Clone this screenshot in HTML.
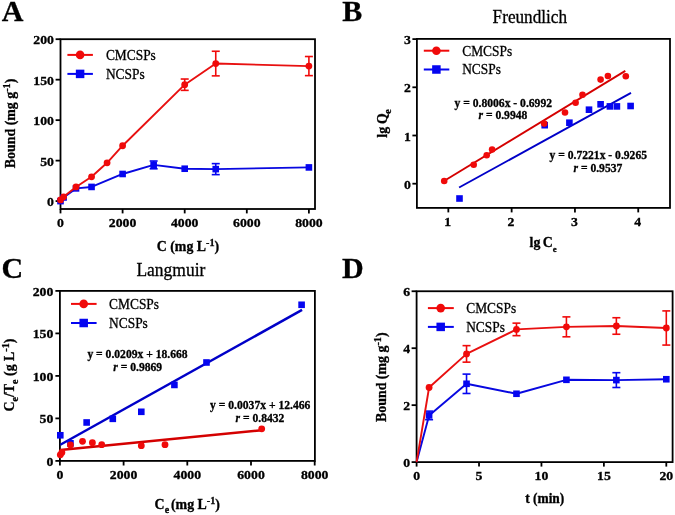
<!DOCTYPE html>
<html><head><meta charset="utf-8"><style>
html,body{margin:0;padding:0;background:#fff;width:675px;height:515px;overflow:hidden}
svg{display:block;will-change:transform;font-family:"Liberation Serif",serif}
text{stroke:#000;stroke-width:0.3px;paint-order:stroke}
</style></head><body>
<svg width="675" height="515" viewBox="0 0 675 515">
<rect width="675" height="515" fill="#fff"/>
<rect x="60.50" y="39.20" width="254.50" height="169.80" fill="none" stroke="#000" stroke-width="1.8"/>
<line x1="60.50" y1="209.00" x2="60.50" y2="213.40" stroke="#000" stroke-width="1.8" stroke-linecap="butt"/>
<text transform="translate(60.50,227.10) scale(1.0600,1)" font-size="13.0" text-anchor="middle" font-weight="bold" font-style="normal" >0</text>
<line x1="122.60" y1="209.00" x2="122.60" y2="213.40" stroke="#000" stroke-width="1.8" stroke-linecap="butt"/>
<text transform="translate(122.60,227.10) scale(1.0600,1)" font-size="13.0" text-anchor="middle" font-weight="bold" font-style="normal" >2000</text>
<line x1="184.70" y1="209.00" x2="184.70" y2="213.40" stroke="#000" stroke-width="1.8" stroke-linecap="butt"/>
<text transform="translate(184.70,227.10) scale(1.0600,1)" font-size="13.0" text-anchor="middle" font-weight="bold" font-style="normal" >4000</text>
<line x1="246.80" y1="209.00" x2="246.80" y2="213.40" stroke="#000" stroke-width="1.8" stroke-linecap="butt"/>
<text transform="translate(246.80,227.10) scale(1.0600,1)" font-size="13.0" text-anchor="middle" font-weight="bold" font-style="normal" >6000</text>
<line x1="308.90" y1="209.00" x2="308.90" y2="213.40" stroke="#000" stroke-width="1.8" stroke-linecap="butt"/>
<text transform="translate(308.90,227.10) scale(1.0600,1)" font-size="13.0" text-anchor="middle" font-weight="bold" font-style="normal" >8000</text>
<line x1="55.60" y1="201.10" x2="60.50" y2="201.10" stroke="#000" stroke-width="1.8" stroke-linecap="butt"/>
<text transform="translate(53.90,206.10) scale(1.0600,1)" font-size="13.0" text-anchor="end" font-weight="bold" font-style="normal" >0</text>
<line x1="55.60" y1="160.62" x2="60.50" y2="160.62" stroke="#000" stroke-width="1.8" stroke-linecap="butt"/>
<text transform="translate(53.90,165.62) scale(1.0600,1)" font-size="13.0" text-anchor="end" font-weight="bold" font-style="normal" >50</text>
<line x1="55.60" y1="120.15" x2="60.50" y2="120.15" stroke="#000" stroke-width="1.8" stroke-linecap="butt"/>
<text transform="translate(53.90,125.15) scale(1.0600,1)" font-size="13.0" text-anchor="end" font-weight="bold" font-style="normal" >100</text>
<line x1="55.60" y1="79.67" x2="60.50" y2="79.67" stroke="#000" stroke-width="1.8" stroke-linecap="butt"/>
<text transform="translate(53.90,84.67) scale(1.0600,1)" font-size="13.0" text-anchor="end" font-weight="bold" font-style="normal" >150</text>
<line x1="55.60" y1="39.20" x2="60.50" y2="39.20" stroke="#000" stroke-width="1.8" stroke-linecap="butt"/>
<text transform="translate(53.90,44.20) scale(1.0600,1)" font-size="13.0" text-anchor="end" font-weight="bold" font-style="normal" >200</text>
<line x1="67.40" y1="54.90" x2="92.90" y2="54.90" stroke="#f00a0a" stroke-width="2" stroke-linecap="butt"/>
<circle cx="80.10" cy="54.90" r="4.3" fill="#f00a0a"/>
<line x1="67.40" y1="73.90" x2="92.90" y2="73.90" stroke="#0505f0" stroke-width="2" stroke-linecap="butt"/>
<rect x="75.85" y="69.65" width="8.5" height="8.5" fill="#0505f0"/>
<text transform="translate(105.90,59.70) scale(0.8933,1)" font-size="15.0" text-anchor="start" font-weight="normal" font-style="normal" >CMCSPs</text>
<text transform="translate(105.90,78.50) scale(0.8933,1)" font-size="15.0" text-anchor="start" font-weight="normal" font-style="normal" >NCSPs</text>
<polyline points="60.50,201.10 63.60,197.46 76.03,188.39 91.55,186.93 122.60,173.98 153.65,164.92 184.70,168.72 215.75,169.12 308.90,167.42" fill="none" stroke="#0808e0" stroke-width="1.9" stroke-linejoin="round"/>
<rect x="57.20" y="197.80" width="6.6" height="6.6" fill="#0505f0"/>
<rect x="60.30" y="194.16" width="6.6" height="6.6" fill="#0505f0"/>
<rect x="72.73" y="185.09" width="6.6" height="6.6" fill="#0505f0"/>
<rect x="88.25" y="183.63" width="6.6" height="6.6" fill="#0505f0"/>
<rect x="119.30" y="170.68" width="6.6" height="6.6" fill="#0505f0"/>
<line x1="153.65" y1="161.03" x2="153.65" y2="168.80" stroke="#0505f0" stroke-width="1.6" stroke-linecap="butt"/>
<line x1="149.65" y1="161.03" x2="157.65" y2="161.03" stroke="#0505f0" stroke-width="1.6" stroke-linecap="butt"/>
<line x1="149.65" y1="168.80" x2="157.65" y2="168.80" stroke="#0505f0" stroke-width="1.6" stroke-linecap="butt"/>
<rect x="150.35" y="161.62" width="6.6" height="6.6" fill="#0505f0"/>
<rect x="181.40" y="165.42" width="6.6" height="6.6" fill="#0505f0"/>
<line x1="215.75" y1="163.62" x2="215.75" y2="174.63" stroke="#0505f0" stroke-width="1.6" stroke-linecap="butt"/>
<line x1="211.75" y1="163.62" x2="219.75" y2="163.62" stroke="#0505f0" stroke-width="1.6" stroke-linecap="butt"/>
<line x1="211.75" y1="174.63" x2="219.75" y2="174.63" stroke="#0505f0" stroke-width="1.6" stroke-linecap="butt"/>
<rect x="212.45" y="165.82" width="6.6" height="6.6" fill="#0505f0"/>
<rect x="305.60" y="164.12" width="6.6" height="6.6" fill="#0505f0"/>
<polyline points="60.50,199.89 63.60,196.81 76.03,186.93 91.55,176.81 107.08,162.81 122.60,145.73 184.70,84.69 215.75,63.57 308.90,66.08" fill="none" stroke="#e81010" stroke-width="1.9" stroke-linejoin="round"/>
<circle cx="60.50" cy="199.89" r="3.4" fill="#f00a0a"/>
<circle cx="63.60" cy="196.81" r="3.4" fill="#f00a0a"/>
<circle cx="76.03" cy="186.93" r="3.4" fill="#f00a0a"/>
<circle cx="91.55" cy="176.81" r="3.4" fill="#f00a0a"/>
<circle cx="107.08" cy="162.81" r="3.4" fill="#f00a0a"/>
<circle cx="122.60" cy="145.73" r="3.4" fill="#f00a0a"/>
<line x1="184.70" y1="79.03" x2="184.70" y2="90.36" stroke="#f00a0a" stroke-width="1.6" stroke-linecap="butt"/>
<line x1="180.70" y1="79.03" x2="188.70" y2="79.03" stroke="#f00a0a" stroke-width="1.6" stroke-linecap="butt"/>
<line x1="180.70" y1="90.36" x2="188.70" y2="90.36" stroke="#f00a0a" stroke-width="1.6" stroke-linecap="butt"/>
<circle cx="184.70" cy="84.69" r="3.4" fill="#f00a0a"/>
<line x1="215.75" y1="51.26" x2="215.75" y2="75.87" stroke="#f00a0a" stroke-width="1.6" stroke-linecap="butt"/>
<line x1="211.75" y1="51.26" x2="219.75" y2="51.26" stroke="#f00a0a" stroke-width="1.6" stroke-linecap="butt"/>
<line x1="211.75" y1="75.87" x2="219.75" y2="75.87" stroke="#f00a0a" stroke-width="1.6" stroke-linecap="butt"/>
<circle cx="215.75" cy="63.57" r="3.4" fill="#f00a0a"/>
<line x1="308.90" y1="56.52" x2="308.90" y2="75.63" stroke="#f00a0a" stroke-width="1.6" stroke-linecap="butt"/>
<line x1="304.90" y1="56.52" x2="312.90" y2="56.52" stroke="#f00a0a" stroke-width="1.6" stroke-linecap="butt"/>
<line x1="304.90" y1="75.63" x2="312.90" y2="75.63" stroke="#f00a0a" stroke-width="1.6" stroke-linecap="butt"/>
<circle cx="308.90" cy="66.08" r="3.4" fill="#f00a0a"/>
<text x="156.70" y="251.00" font-size="13.9" text-anchor="start" font-weight="bold" font-style="normal" >C (mg L<tspan font-size="10.2" dy="-5.2">-1</tspan><tspan dy="5.2">)</tspan></text>
<text transform="translate(15.3,168.2) rotate(-90)" font-size="13.9" font-weight="bold">Bound (mg g<tspan font-size="10.2" dy="-5.2">-1</tspan><tspan dy="5.2">)</tspan></text>
<text x="1.80" y="21.40" font-size="30" text-anchor="start" font-weight="bold" font-style="normal" >A</text>
<rect x="416.90" y="38.90" width="253.10" height="169.00" fill="none" stroke="#000" stroke-width="1.8"/>
<line x1="448.34" y1="207.90" x2="448.34" y2="212.40" stroke="#000" stroke-width="1.8" stroke-linecap="butt"/>
<text transform="translate(447.74,226.00) scale(1.0600,1)" font-size="13.0" text-anchor="middle" font-weight="bold" font-style="normal" >1</text>
<line x1="511.64" y1="207.90" x2="511.64" y2="212.40" stroke="#000" stroke-width="1.8" stroke-linecap="butt"/>
<text transform="translate(511.04,226.00) scale(1.0600,1)" font-size="13.0" text-anchor="middle" font-weight="bold" font-style="normal" >2</text>
<line x1="574.94" y1="207.90" x2="574.94" y2="212.40" stroke="#000" stroke-width="1.8" stroke-linecap="butt"/>
<text transform="translate(574.34,226.00) scale(1.0600,1)" font-size="13.0" text-anchor="middle" font-weight="bold" font-style="normal" >3</text>
<line x1="638.24" y1="207.90" x2="638.24" y2="212.40" stroke="#000" stroke-width="1.8" stroke-linecap="butt"/>
<text transform="translate(637.64,226.00) scale(1.0600,1)" font-size="13.0" text-anchor="middle" font-weight="bold" font-style="normal" >4</text>
<line x1="412.40" y1="183.70" x2="416.90" y2="183.70" stroke="#000" stroke-width="1.8" stroke-linecap="butt"/>
<text transform="translate(410.80,188.70) scale(1.0600,1)" font-size="13.0" text-anchor="end" font-weight="bold" font-style="normal" >0</text>
<line x1="412.40" y1="135.50" x2="416.90" y2="135.50" stroke="#000" stroke-width="1.8" stroke-linecap="butt"/>
<text transform="translate(410.80,140.50) scale(1.0600,1)" font-size="13.0" text-anchor="end" font-weight="bold" font-style="normal" >1</text>
<line x1="412.40" y1="87.30" x2="416.90" y2="87.30" stroke="#000" stroke-width="1.8" stroke-linecap="butt"/>
<text transform="translate(410.80,92.30) scale(1.0600,1)" font-size="13.0" text-anchor="end" font-weight="bold" font-style="normal" >2</text>
<line x1="412.40" y1="39.10" x2="416.90" y2="39.10" stroke="#000" stroke-width="1.8" stroke-linecap="butt"/>
<text transform="translate(410.80,44.10) scale(1.0600,1)" font-size="13.0" text-anchor="end" font-weight="bold" font-style="normal" >3</text>
<line x1="423.80" y1="50.70" x2="449.30" y2="50.70" stroke="#f00a0a" stroke-width="2" stroke-linecap="butt"/>
<circle cx="436.40" cy="50.70" r="4.3" fill="#f00a0a"/>
<line x1="423.80" y1="69.50" x2="449.30" y2="69.50" stroke="#0505f0" stroke-width="2" stroke-linecap="butt"/>
<rect x="432.15" y="65.25" width="8.5" height="8.5" fill="#0505f0"/>
<text transform="translate(462.20,55.70) scale(0.8933,1)" font-size="15.0" text-anchor="start" font-weight="normal" font-style="normal" >CMCSPs</text>
<text transform="translate(462.20,74.30) scale(0.8933,1)" font-size="15.0" text-anchor="start" font-weight="normal" font-style="normal" >NCSPs</text>
<line x1="443.60" y1="181.20" x2="625.30" y2="70.90" stroke="#d40000" stroke-width="1.9" stroke-linecap="butt"/>
<line x1="459.10" y1="187.50" x2="631.00" y2="92.90" stroke="#0000c8" stroke-width="1.9" stroke-linecap="butt"/>
<rect x="456.20" y="195.20" width="6.6" height="6.6" fill="#0505f0"/>
<rect x="541.40" y="121.90" width="6.6" height="6.6" fill="#0505f0"/>
<rect x="566.10" y="119.40" width="6.6" height="6.6" fill="#0505f0"/>
<rect x="585.70" y="106.40" width="6.6" height="6.6" fill="#0505f0"/>
<rect x="597.30" y="101.00" width="6.6" height="6.6" fill="#0505f0"/>
<rect x="606.60" y="103.10" width="6.6" height="6.6" fill="#0505f0"/>
<rect x="613.60" y="103.10" width="6.6" height="6.6" fill="#0505f0"/>
<rect x="627.30" y="102.70" width="6.6" height="6.6" fill="#0505f0"/>
<circle cx="444.20" cy="181.00" r="3.3" fill="#f00a0a"/>
<circle cx="473.70" cy="164.70" r="3.3" fill="#f00a0a"/>
<circle cx="486.70" cy="155.30" r="3.3" fill="#f00a0a"/>
<circle cx="492.10" cy="149.50" r="3.3" fill="#f00a0a"/>
<circle cx="544.20" cy="123.60" r="3.3" fill="#f00a0a"/>
<circle cx="565.00" cy="112.50" r="3.3" fill="#f00a0a"/>
<circle cx="575.60" cy="102.70" r="3.3" fill="#f00a0a"/>
<circle cx="582.50" cy="94.70" r="3.3" fill="#f00a0a"/>
<circle cx="600.60" cy="79.60" r="3.3" fill="#f00a0a"/>
<circle cx="607.90" cy="76.00" r="3.3" fill="#f00a0a"/>
<circle cx="625.80" cy="76.30" r="3.3" fill="#f00a0a"/>
<text x="503.30" y="106.90" font-size="11.6" text-anchor="middle" font-weight="bold" font-style="normal" >y = 0.8006x - 0.6992</text>
<text x="502.90" y="118.60" font-size="11.6" text-anchor="middle" font-weight="bold" font-style="normal" ><tspan font-style="italic">r</tspan> = 0.9948</text>
<text x="598.30" y="158.80" font-size="11.6" text-anchor="middle" font-weight="bold" font-style="normal" >y = 0.7221x - 0.9265</text>
<text x="597.90" y="171.60" font-size="11.6" text-anchor="middle" font-weight="bold" font-style="normal" ><tspan font-style="italic">r</tspan> = 0.9537</text>
<text x="529.60" y="246.90" font-size="13.9" text-anchor="start" font-weight="bold" font-style="normal" >lg<tspan dx="-1.2"> C</tspan><tspan font-size="8.8" dy="4.9">e</tspan></text>
<text transform="translate(387.0,137.7) rotate(-90)" font-size="13.9" font-weight="bold">lg<tspan dx="-0.6"> Q</tspan><tspan font-size="10" dy="4.4" dx="-0.6">e</tspan></text>
<text x="342.20" y="21.10" font-size="30" text-anchor="start" font-weight="bold" font-style="normal" >B</text>
<text transform="translate(492.60,23.40) scale(0.9556,1)" font-size="18.0" text-anchor="start" font-weight="normal" font-style="normal" >Freundlich</text>
<rect x="59.90" y="290.90" width="255.00" height="170.00" fill="none" stroke="#000" stroke-width="1.8"/>
<line x1="59.90" y1="460.90" x2="59.90" y2="465.50" stroke="#000" stroke-width="1.8" stroke-linecap="butt"/>
<text transform="translate(59.90,478.70) scale(1.0600,1)" font-size="13.0" text-anchor="middle" font-weight="bold" font-style="normal" >0</text>
<line x1="123.60" y1="460.90" x2="123.60" y2="465.50" stroke="#000" stroke-width="1.8" stroke-linecap="butt"/>
<text transform="translate(123.60,478.70) scale(1.0600,1)" font-size="13.0" text-anchor="middle" font-weight="bold" font-style="normal" >2000</text>
<line x1="187.30" y1="460.90" x2="187.30" y2="465.50" stroke="#000" stroke-width="1.8" stroke-linecap="butt"/>
<text transform="translate(187.30,478.70) scale(1.0600,1)" font-size="13.0" text-anchor="middle" font-weight="bold" font-style="normal" >4000</text>
<line x1="251.00" y1="460.90" x2="251.00" y2="465.50" stroke="#000" stroke-width="1.8" stroke-linecap="butt"/>
<text transform="translate(251.00,478.70) scale(1.0600,1)" font-size="13.0" text-anchor="middle" font-weight="bold" font-style="normal" >6000</text>
<line x1="314.70" y1="460.90" x2="314.70" y2="465.50" stroke="#000" stroke-width="1.8" stroke-linecap="butt"/>
<text transform="translate(314.70,478.70) scale(1.0600,1)" font-size="13.0" text-anchor="middle" font-weight="bold" font-style="normal" >8000</text>
<line x1="55.40" y1="460.90" x2="59.90" y2="460.90" stroke="#000" stroke-width="1.8" stroke-linecap="butt"/>
<text transform="translate(53.30,465.90) scale(1.0600,1)" font-size="13.0" text-anchor="end" font-weight="bold" font-style="normal" >0</text>
<line x1="55.40" y1="418.40" x2="59.90" y2="418.40" stroke="#000" stroke-width="1.8" stroke-linecap="butt"/>
<text transform="translate(53.30,423.40) scale(1.0600,1)" font-size="13.0" text-anchor="end" font-weight="bold" font-style="normal" >50</text>
<line x1="55.40" y1="375.90" x2="59.90" y2="375.90" stroke="#000" stroke-width="1.8" stroke-linecap="butt"/>
<text transform="translate(53.30,380.90) scale(1.0600,1)" font-size="13.0" text-anchor="end" font-weight="bold" font-style="normal" >100</text>
<line x1="55.40" y1="333.40" x2="59.90" y2="333.40" stroke="#000" stroke-width="1.8" stroke-linecap="butt"/>
<text transform="translate(53.30,338.40) scale(1.0600,1)" font-size="13.0" text-anchor="end" font-weight="bold" font-style="normal" >150</text>
<line x1="55.40" y1="290.90" x2="59.90" y2="290.90" stroke="#000" stroke-width="1.8" stroke-linecap="butt"/>
<text transform="translate(53.30,295.90) scale(1.0600,1)" font-size="13.0" text-anchor="end" font-weight="bold" font-style="normal" >200</text>
<line x1="71.00" y1="303.90" x2="96.60" y2="303.90" stroke="#f00a0a" stroke-width="2" stroke-linecap="butt"/>
<circle cx="83.70" cy="303.90" r="4.3" fill="#f00a0a"/>
<line x1="71.00" y1="323.00" x2="96.60" y2="323.00" stroke="#0505f0" stroke-width="2" stroke-linecap="butt"/>
<rect x="79.45" y="318.75" width="8.5" height="8.5" fill="#0505f0"/>
<text transform="translate(109.10,308.80) scale(0.8933,1)" font-size="15.0" text-anchor="start" font-weight="normal" font-style="normal" >CMCSPs</text>
<text transform="translate(109.10,328.30) scale(0.8933,1)" font-size="15.0" text-anchor="start" font-weight="normal" font-style="normal" >NCSPs</text>
<line x1="60.30" y1="450.04" x2="261.71" y2="430.14" stroke="#d40000" stroke-width="2.5" stroke-linecap="butt"/>
<line x1="60.30" y1="444.78" x2="302.08" y2="309.88" stroke="#0000c8" stroke-width="2.5" stroke-linecap="butt"/>
<rect x="57.00" y="431.97" width="6.6" height="6.6" fill="#0505f0"/>
<rect x="67.16" y="440.02" width="6.6" height="6.6" fill="#0505f0"/>
<rect x="83.34" y="419.17" width="6.6" height="6.6" fill="#0505f0"/>
<rect x="109.49" y="415.53" width="6.6" height="6.6" fill="#0505f0"/>
<rect x="138.00" y="408.50" width="6.6" height="6.6" fill="#0505f0"/>
<rect x="171.10" y="381.64" width="6.6" height="6.6" fill="#0505f0"/>
<rect x="203.19" y="359.18" width="6.6" height="6.6" fill="#0505f0"/>
<rect x="298.30" y="301.48" width="6.6" height="6.6" fill="#0505f0"/>
<circle cx="60.30" cy="454.84" r="3.4" fill="#f00a0a"/>
<circle cx="61.89" cy="452.47" r="3.4" fill="#f00a0a"/>
<circle cx="92.39" cy="442.72" r="3.4" fill="#f00a0a"/>
<circle cx="101.72" cy="444.67" r="3.4" fill="#f00a0a"/>
<circle cx="141.30" cy="445.69" r="3.4" fill="#f00a0a"/>
<circle cx="165.00" cy="444.67" r="3.4" fill="#f00a0a"/>
<circle cx="261.71" cy="428.83" r="3.4" fill="#f00a0a"/>
<circle cx="82.52" cy="441.28" r="3.4" fill="#f00a0a"/>
<circle cx="70.46" cy="445.01" r="3.4" fill="#f00a0a"/>
<text x="137.50" y="357.80" font-size="11.6" text-anchor="middle" font-weight="bold" font-style="normal" >y = 0.0209x + 18.668</text>
<text x="137.70" y="370.70" font-size="11.6" text-anchor="middle" font-weight="bold" font-style="normal" ><tspan font-style="italic">r</tspan> = 0.9869</text>
<text x="260.20" y="409.20" font-size="11.6" text-anchor="middle" font-weight="bold" font-style="normal" >y = 0.0037x + 12.466</text>
<text x="260.00" y="421.70" font-size="11.6" text-anchor="middle" font-weight="bold" font-style="normal" ><tspan font-style="italic">r</tspan> = 0.8432</text>
<text x="154.60" y="508.80" font-size="13.9" text-anchor="start" font-weight="bold" font-style="normal" >C<tspan font-size="10" dy="4.4">e</tspan><tspan dy="-4.4" dx="-1.6"> (mg L</tspan><tspan font-size="10.2" dy="-5.2">-1</tspan><tspan dy="5.2">)</tspan></text>
<text transform="translate(14.0,411.5) rotate(-90)" font-size="13.9" font-weight="bold">C<tspan font-size="10" dy="3.6">e</tspan><tspan dy="-3.6">/T</tspan><tspan font-size="10" dy="3.6">e</tspan><tspan dy="-3.6"> (g L</tspan><tspan font-size="10.2" dy="-5.2">-1</tspan><tspan dy="5.2">)</tspan></text>
<text x="1.60" y="278.10" font-size="30" text-anchor="start" font-weight="bold" font-style="normal" >C</text>
<text transform="translate(136.40,276.40) scale(0.9615,1)" font-size="18.2" text-anchor="start" font-weight="normal" font-style="normal" >Langmuir</text>
<rect x="416.60" y="291.25" width="256.00" height="170.85" fill="none" stroke="#000" stroke-width="1.8"/>
<line x1="416.60" y1="462.10" x2="416.60" y2="466.60" stroke="#000" stroke-width="1.8" stroke-linecap="butt"/>
<text transform="translate(416.60,480.10) scale(1.0600,1)" font-size="13.0" text-anchor="middle" font-weight="bold" font-style="normal" >0</text>
<line x1="479.03" y1="462.10" x2="479.03" y2="466.60" stroke="#000" stroke-width="1.8" stroke-linecap="butt"/>
<text transform="translate(479.03,480.10) scale(1.0600,1)" font-size="13.0" text-anchor="middle" font-weight="bold" font-style="normal" >5</text>
<line x1="541.45" y1="462.10" x2="541.45" y2="466.60" stroke="#000" stroke-width="1.8" stroke-linecap="butt"/>
<text transform="translate(541.45,480.10) scale(1.0600,1)" font-size="13.0" text-anchor="middle" font-weight="bold" font-style="normal" >10</text>
<line x1="603.88" y1="462.10" x2="603.88" y2="466.60" stroke="#000" stroke-width="1.8" stroke-linecap="butt"/>
<text transform="translate(603.88,480.10) scale(1.0600,1)" font-size="13.0" text-anchor="middle" font-weight="bold" font-style="normal" >15</text>
<line x1="666.30" y1="462.10" x2="666.30" y2="466.60" stroke="#000" stroke-width="1.8" stroke-linecap="butt"/>
<text transform="translate(666.30,480.10) scale(1.0600,1)" font-size="13.0" text-anchor="middle" font-weight="bold" font-style="normal" >20</text>
<line x1="411.60" y1="462.10" x2="416.60" y2="462.10" stroke="#000" stroke-width="1.8" stroke-linecap="butt"/>
<text transform="translate(410.10,467.10) scale(1.0600,1)" font-size="13.0" text-anchor="end" font-weight="bold" font-style="normal" >0</text>
<line x1="411.60" y1="405.15" x2="416.60" y2="405.15" stroke="#000" stroke-width="1.8" stroke-linecap="butt"/>
<text transform="translate(410.10,410.15) scale(1.0600,1)" font-size="13.0" text-anchor="end" font-weight="bold" font-style="normal" >2</text>
<line x1="411.60" y1="348.20" x2="416.60" y2="348.20" stroke="#000" stroke-width="1.8" stroke-linecap="butt"/>
<text transform="translate(410.10,353.20) scale(1.0600,1)" font-size="13.0" text-anchor="end" font-weight="bold" font-style="normal" >4</text>
<line x1="411.60" y1="291.25" x2="416.60" y2="291.25" stroke="#000" stroke-width="1.8" stroke-linecap="butt"/>
<text transform="translate(410.10,296.25) scale(1.0600,1)" font-size="13.0" text-anchor="end" font-weight="bold" font-style="normal" >6</text>
<line x1="427.90" y1="308.10" x2="453.80" y2="308.10" stroke="#f00a0a" stroke-width="2" stroke-linecap="butt"/>
<circle cx="440.70" cy="308.10" r="4.3" fill="#f00a0a"/>
<line x1="427.90" y1="326.90" x2="453.80" y2="326.90" stroke="#0505f0" stroke-width="2" stroke-linecap="butt"/>
<rect x="436.45" y="322.65" width="8.5" height="8.5" fill="#0505f0"/>
<text transform="translate(466.20,313.30) scale(0.8933,1)" font-size="15.0" text-anchor="start" font-weight="normal" font-style="normal" >CMCSPs</text>
<text transform="translate(466.20,331.90) scale(0.8933,1)" font-size="15.0" text-anchor="start" font-weight="normal" font-style="normal" >NCSPs</text>
<polyline points="416.60,462.10 429.09,415.40 466.54,383.79 516.48,393.76 566.42,379.81 616.36,380.09 666.30,379.24" fill="none" stroke="#0808e0" stroke-width="1.9" stroke-linejoin="round"/>
<line x1="429.09" y1="411.13" x2="429.09" y2="419.67" stroke="#0505f0" stroke-width="1.6" stroke-linecap="butt"/>
<line x1="425.09" y1="411.13" x2="433.09" y2="411.13" stroke="#0505f0" stroke-width="1.6" stroke-linecap="butt"/>
<line x1="425.09" y1="419.67" x2="433.09" y2="419.67" stroke="#0505f0" stroke-width="1.6" stroke-linecap="butt"/>
<rect x="425.79" y="412.10" width="6.6" height="6.6" fill="#0505f0"/>
<line x1="466.54" y1="374.11" x2="466.54" y2="393.48" stroke="#0505f0" stroke-width="1.6" stroke-linecap="butt"/>
<line x1="462.54" y1="374.11" x2="470.54" y2="374.11" stroke="#0505f0" stroke-width="1.6" stroke-linecap="butt"/>
<line x1="462.54" y1="393.48" x2="470.54" y2="393.48" stroke="#0505f0" stroke-width="1.6" stroke-linecap="butt"/>
<rect x="463.24" y="380.49" width="6.6" height="6.6" fill="#0505f0"/>
<rect x="513.18" y="390.46" width="6.6" height="6.6" fill="#0505f0"/>
<rect x="563.12" y="376.51" width="6.6" height="6.6" fill="#0505f0"/>
<line x1="616.36" y1="372.69" x2="616.36" y2="387.50" stroke="#0505f0" stroke-width="1.6" stroke-linecap="butt"/>
<line x1="612.36" y1="372.69" x2="620.36" y2="372.69" stroke="#0505f0" stroke-width="1.6" stroke-linecap="butt"/>
<line x1="612.36" y1="387.50" x2="620.36" y2="387.50" stroke="#0505f0" stroke-width="1.6" stroke-linecap="butt"/>
<rect x="613.06" y="376.79" width="6.6" height="6.6" fill="#0505f0"/>
<rect x="663.00" y="375.94" width="6.6" height="6.6" fill="#0505f0"/>
<polyline points="416.60,462.10 429.09,387.50 466.54,353.90 516.48,329.41 566.42,326.84 616.36,325.99 666.30,327.98" fill="none" stroke="#e81010" stroke-width="1.9" stroke-linejoin="round"/>
<circle cx="429.09" cy="387.50" r="3.4" fill="#f00a0a"/>
<line x1="466.54" y1="345.64" x2="466.54" y2="362.15" stroke="#f00a0a" stroke-width="1.6" stroke-linecap="butt"/>
<line x1="462.54" y1="345.64" x2="470.54" y2="345.64" stroke="#f00a0a" stroke-width="1.6" stroke-linecap="butt"/>
<line x1="462.54" y1="362.15" x2="470.54" y2="362.15" stroke="#f00a0a" stroke-width="1.6" stroke-linecap="butt"/>
<circle cx="466.54" cy="353.90" r="3.4" fill="#f00a0a"/>
<line x1="516.48" y1="323.14" x2="516.48" y2="335.67" stroke="#f00a0a" stroke-width="1.6" stroke-linecap="butt"/>
<line x1="512.48" y1="323.14" x2="520.48" y2="323.14" stroke="#f00a0a" stroke-width="1.6" stroke-linecap="butt"/>
<line x1="512.48" y1="335.67" x2="520.48" y2="335.67" stroke="#f00a0a" stroke-width="1.6" stroke-linecap="butt"/>
<circle cx="516.48" cy="329.41" r="3.4" fill="#f00a0a"/>
<line x1="566.42" y1="316.88" x2="566.42" y2="336.81" stroke="#f00a0a" stroke-width="1.6" stroke-linecap="butt"/>
<line x1="562.42" y1="316.88" x2="570.42" y2="316.88" stroke="#f00a0a" stroke-width="1.6" stroke-linecap="butt"/>
<line x1="562.42" y1="336.81" x2="570.42" y2="336.81" stroke="#f00a0a" stroke-width="1.6" stroke-linecap="butt"/>
<circle cx="566.42" cy="326.84" r="3.4" fill="#f00a0a"/>
<line x1="616.36" y1="317.73" x2="616.36" y2="334.25" stroke="#f00a0a" stroke-width="1.6" stroke-linecap="butt"/>
<line x1="612.36" y1="317.73" x2="620.36" y2="317.73" stroke="#f00a0a" stroke-width="1.6" stroke-linecap="butt"/>
<line x1="612.36" y1="334.25" x2="620.36" y2="334.25" stroke="#f00a0a" stroke-width="1.6" stroke-linecap="butt"/>
<circle cx="616.36" cy="325.99" r="3.4" fill="#f00a0a"/>
<line x1="666.30" y1="310.90" x2="666.30" y2="345.07" stroke="#f00a0a" stroke-width="1.6" stroke-linecap="butt"/>
<line x1="662.30" y1="310.90" x2="670.30" y2="310.90" stroke="#f00a0a" stroke-width="1.6" stroke-linecap="butt"/>
<line x1="662.30" y1="345.07" x2="670.30" y2="345.07" stroke="#f00a0a" stroke-width="1.6" stroke-linecap="butt"/>
<circle cx="666.30" cy="327.98" r="3.4" fill="#f00a0a"/>
<text transform="translate(525.20,502.90) scale(0.9650,1)" font-size="13.9" text-anchor="start" font-weight="bold" font-style="normal" >t (min)</text>
<text transform="translate(386,422.0) rotate(-90)" font-size="13.9" font-weight="bold">Bound (mg g<tspan font-size="10.2" dy="-5.2">-1</tspan><tspan dy="5.2">)</tspan></text>
<text x="341.90" y="278.30" font-size="30" text-anchor="start" font-weight="bold" font-style="normal" >D</text>
</svg>
</body></html>
